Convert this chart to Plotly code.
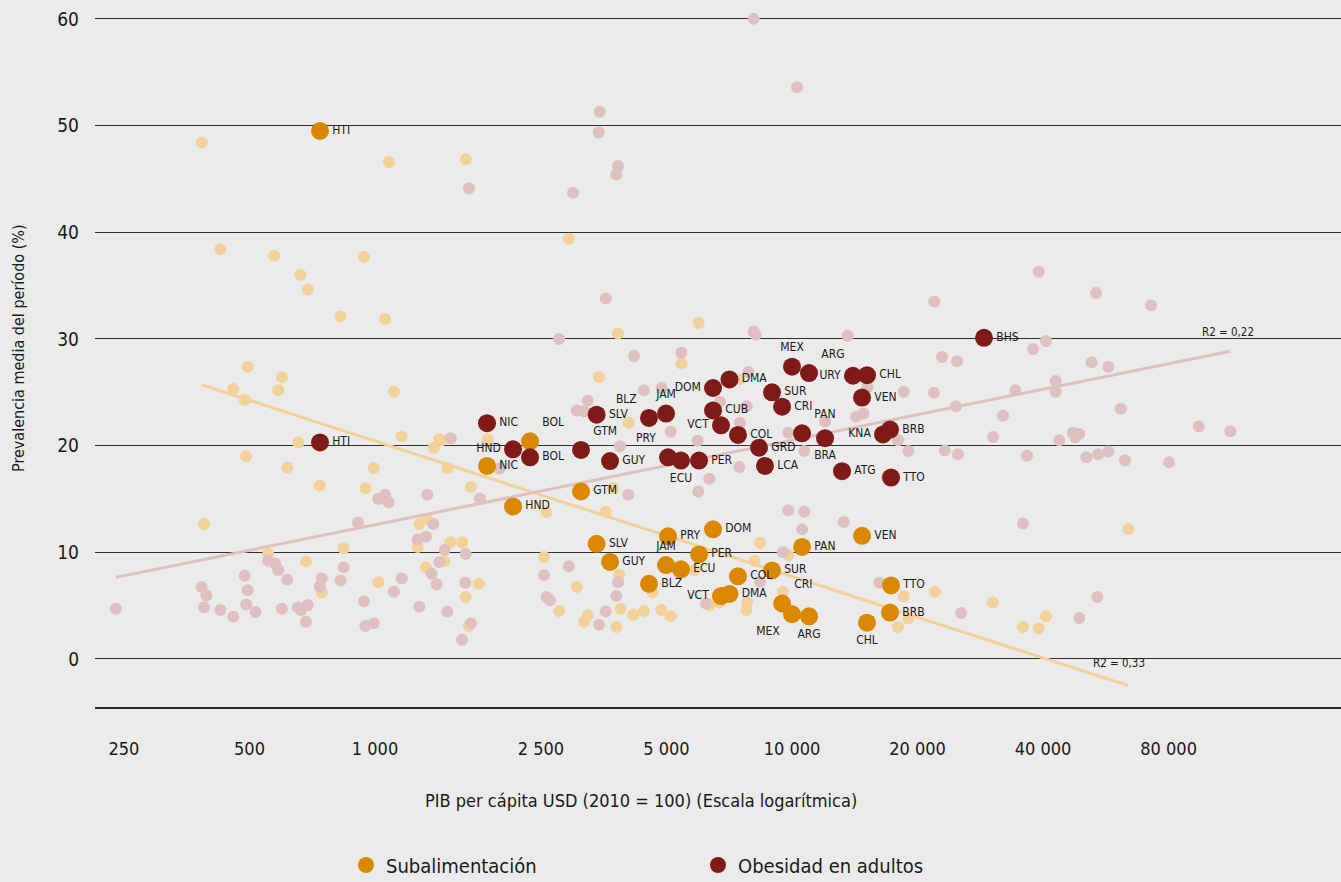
import plotly.graph_objects as go

# ---------------- data ----------------
countries = ["HTI", "NIC", "HND", "BOL", "GTM", "SLV", "GUY", "BLZ", "JAM", "PRY", "ECU",
             "PER", "DOM", "VCT", "CUB", "DMA", "COL", "GRD", "LCA", "SUR", "CRI", "MEX",
             "PAN", "ARG", "BRA", "ATG", "URY", "VEN", "CHL", "KNA", "BRB", "TTO", "BHS"]
gdp = [738, 1856, 2143, 2354, 3119, 3400, 3661, 4540, 4987, 5043, 5417,
       5984, 6465, 6756, 6465, 7080, 7421, 8335, 8613, 8955, 9466, 10000,
       10570, 10985, 12000, 13180, 14000, 14720, 15130, 16530, 17180, 17280, 28870]
obesity = [20.3, 22.1, 19.65, 18.9, 19.6, 22.9, 18.55, 22.6, 23.0, 18.9, 18.6,
           18.6, 25.4, 21.9, 23.3, 26.2, 21.0, 19.8, 18.1, 25.0, 23.65, 27.4,
           21.15, 26.8, 20.7, 17.6, 26.55, 24.5, 26.6, 21.05, 21.5, 17.0, 30.1]
undernourishment = [49.5, 18.1, 14.3, 20.4, 15.7, 10.8, 9.1, 7.05, 8.8, 11.5, 8.4,
                    9.8, 12.15, 5.9, None, 6.1, 7.75, None, None, 8.3, 5.2, 4.2,
                    10.5, 4.0, None, None, None, 11.55, 3.4, None, 4.35, 6.9, None]

# all-world background points: undernourishment
world_under_gdp = [384, 1079, 1650, 426, 573, 941, 663, 690, 827, 1057, 2914, 5972, 3825, 5430,
                   3445, 4059, 1863, 1445, 1491, 1699, 3728, 7474, 495, 457, 487, 598, 586, 1110,
                   655, 1159, 1424, 1383, 491, 616, 993, 737, 948, 389, 1277, 1335, 1266, 1516,
                   1617, 554, 841, 683, 1325, 1466, 1018, 745, 1773, 1650, 1678, 2580, 3575, 8381,
                   2543, 3046, 2767, 3172, 3236, 3790, 3883, 4160, 4410, 4860, 5117, 3849, 4630,
                   5843, 8130, 7810, 7770, 6330, 6690, 9796, 18530, 17960, 19010, 22000, 9510,
                   64060, 30290, 40650, 35780, 39050]
world_under_val = [48.4, 46.55, 46.85, 38.4, 37.8, 37.7, 36.0, 34.6, 32.1, 31.9, 39.4, 31.5, 30.5, 27.7,
                   26.4, 22.15, 20.6, 20.5, 17.9, 16.15, 16.0, 26.2, 27.4, 25.3, 24.3, 26.4, 25.2, 25.05,
                   20.3, 20.85, 20.6, 19.8, 19.0, 17.95, 17.9, 16.25, 16.0, 12.65, 12.65, 13.1, 10.5, 10.95,
                   10.95, 9.85, 10.35, 9.15, 8.6, 9.15, 7.2, 6.2, 7.05, 5.8, 3.1, 13.75, 13.8, 10.9,
                   9.55, 6.75, 4.5, 3.5, 4.1, 3.0, 4.7, 4.15, 4.5, 4.6, 4.0, 7.9, 6.25,
                   8.35, 9.2, 5.3, 4.6, 5.05, 5.3, 9.75, 5.85, 3.0, 3.8, 6.3, 6.3,
                   12.15, 5.3, 4.0, 3.0, 2.85]

# all-world background points: adult obesity
world_obes_gdp = [1680, 8093, 10280, 3458, 3440, 3825, 3790, 2985, 3575, 21940, 2763, 8093, 8180, 13600,
                  39050, 53580, 72600, 37840, 40650, 22900, 24870, 52320, 57350, 42900, 42900, 34310,
                  24730, 32060, 61400, 30340, 43760, 47130, 48850, 47800, 94470, 112500, 23250, 25000,
                  36600, 50790, 54200, 57350, 62880, 80200, 18530, 21900, 9796, 12000, 10700, 19010,
                  17960, 14240, 14850, 15180, 4180, 5427, 4410, 4870, 3236, 3046, 3172, 1519, 3868,
                  5117, 5940, 6335, 5960, 7474, 7785, 7500, 6720, 7860, 16880, 1785, 4051, 1988,
                  239, 384, 394, 389, 426, 457, 487, 495, 491, 517, 554, 576, 586, 616, 598, 653, 665,
                  690, 683, 745, 737, 827, 841, 910, 941, 948, 993, 1018, 1057, 1079, 1110, 1159, 1277,
                  1335, 1325, 1266, 1380, 1469, 1426, 1367, 1406, 1650, 1646, 1491, 1699, 1617, 9796,
                  10700, 10570, 13300, 9510, 2916, 2543, 3830, 3790, 2580, 2627, 3575, 3445, 6220,
                  8381, 16200, 25440, 35780, 53960, 48850]
world_obes_val = [44.1, 60.0, 53.6, 51.3, 49.35, 46.2, 45.4, 43.7, 33.8, 33.5, 30.0, 30.7, 30.4, 30.3,
                  36.3, 34.3, 33.15, 29.05, 29.8, 28.3, 27.9, 27.8, 27.4, 26.05, 25.05, 25.2,
                  23.7, 22.8, 23.45, 20.8, 20.5, 21.2, 21.1, 20.75, 21.8, 21.35, 19.55, 19.2,
                  19.05, 18.9, 19.2, 19.45, 18.6, 18.45, 25.05, 24.95, 21.2, 22.25, 19.5, 19.5,
                  20.5, 22.7, 23.0, 25.5, 28.4, 28.7, 25.2, 25.4, 24.2, 23.3, 23.2, 20.7, 19.95,
                  21.3, 20.45, 16.9, 15.7, 18.0, 23.7, 22.15, 24.1, 26.9, 17.1, 15.05, 15.4, 17.85,
                  4.7, 6.75, 5.95, 4.85, 4.6, 3.95, 7.8, 6.45, 5.1, 4.4, 9.2, 8.95, 8.35, 7.45, 4.7, 4.85, 4.6,
                  5.05, 3.5, 7.55, 6.8, 7.35, 8.6, 12.8, 5.4, 3.1, 3.35, 15.0, 15.4, 14.7, 6.3, 7.55, 4.9,
                  15.4, 11.45, 11.2, 12.65, 10.25, 9.1, 8.0, 7.0, 9.85, 7.15, 4.45, 3.35, 1.8, 13.95,
                  13.8, 12.15, 12.85, 10.0, 8.7, 7.85, 7.2, 5.9, 5.8, 5.5, 4.45, 3.2, 5.2,
                  7.25, 7.15, 4.3, 12.7, 5.8, 3.85]

# trend lines (end points)
trend_under_gdp = [384, 64060]
trend_under_val = [25.7, -2.5]
trend_obes_gdp = [239, 112500]
trend_obes_val = [7.65, 28.85]

tick_vals = [250, 500, 1000, 2500, 5000, 10000, 20000, 40000, 80000]
tick_text = ["250", "500", "1 000", "2 500", "5 000", "10 000", "20 000", "40 000", "80 000"]

# ---------------- styles ----------------
FONT = "'Liberation Sans Narrow', 'DejaVu Sans Condensed', 'Roboto Condensed', Roboto, sans-serif"
C_UNDER = "#d98800"
C_OBES = "#7e1a17"
C_UNDER_LIGHT = "#f2d19b"
C_OBES_LIGHT = "#dfc0c1"
BG = "#ebebeb"
TXT = "#1a1a1a"

pos_obes = {
    "HND": "middle left", "GTM": "top right", "BLZ": "top left", "JAM": "top center",
    "PRY": "top left", "ECU": "bottom center", "DOM": "middle left", "VCT": "middle left",
    "MEX": "top center", "ARG": "top right", "URY": "middle left", "PAN": "top right",
    "BRA": "bottom center", "KNA": "middle left",
}
pos_under = {
    "BOL": "top right", "JAM": "top center", "VCT": "middle left", "CRI": "top right",
    "MEX": "bottom left", "ARG": "bottom center", "CHL": "bottom center",
}

ux, uy, ut, up = [], [], [], []
for c, g, v in zip(countries, gdp, undernourishment):
    if v is not None:
        ux.append(g); uy.append(v); ut.append(c); up.append(pos_under.get(c, "middle right"))
ox, oy, ot, op = [], [], [], []
for c, g, v in zip(countries, gdp, obesity):
    ox.append(g); oy.append(v); ot.append(c); op.append(pos_obes.get(c, "middle right"))

LABEL_FONT = dict(family=FONT, size=12, color=TXT)

fig = go.Figure()
fig.add_trace(go.Scatter(x=world_under_gdp, y=world_under_val, mode="markers",
                         marker=dict(size=12, color=C_UNDER_LIGHT), showlegend=False,
                         hoverinfo="skip", cliponaxis=False))
fig.add_trace(go.Scatter(x=world_obes_gdp, y=world_obes_val, mode="markers",
                         marker=dict(size=12, color=C_OBES_LIGHT), showlegend=False,
                         hoverinfo="skip", cliponaxis=False))
fig.add_trace(go.Scatter(x=trend_under_gdp, y=trend_under_val, mode="lines",
                         line=dict(color=C_UNDER_LIGHT, width=3), showlegend=False, hoverinfo="skip"))
fig.add_trace(go.Scatter(x=trend_obes_gdp, y=trend_obes_val, mode="lines",
                         line=dict(color=C_OBES_LIGHT, width=3), showlegend=False, hoverinfo="skip"))
fig.add_trace(go.Scatter(x=ux, y=uy, mode="markers+text", text=ut, textposition=up,
                         name="Subalimentación",
                         marker=dict(size=18, color=C_UNDER),
                         textfont=LABEL_FONT, cliponaxis=False))
fig.add_trace(go.Scatter(x=ox, y=oy, mode="markers+text", text=ot, textposition=op,
                         name="Obesidad en adultos",
                         marker=dict(size=18, color=C_OBES),
                         textfont=LABEL_FONT, cliponaxis=False))

fig.update_layout(
    width=1341, height=882,
    margin=dict(l=95, r=0, t=5, b=175, pad=0, autoexpand=False),
    paper_bgcolor=BG, plot_bgcolor=BG,
    font=dict(family=FONT, color=TXT),
    showlegend=True,
    legend=dict(orientation="h", x=(346 - 95) / 1246, xanchor="left",
                y=-(865 - 707) / 702, yanchor="middle",
                entrywidth=307, entrywidthmode="pixels",
                font=dict(family=FONT, size=20, color=TXT), bgcolor="rgba(0,0,0,0)",
                itemsizing="trace"),
    xaxis=dict(type="log", range=[2.3285, 5.3165], tickvals=tick_vals, ticktext=tick_text,
               automargin=False,
               showgrid=False, zeroline=False, showline=True, linecolor="#2b2b2b", linewidth=2,
               ticks="", ticklabelstandoff=24, tickfont=dict(family=FONT, size=18, color=TXT)),
    yaxis=dict(range=[-4.5, 61.3], tickvals=[0, 10, 20, 30, 40, 50, 60], automargin=False,
               showgrid=True, gridcolor="#2f2f2f", gridwidth=1.2, zeroline=False, showline=False,
               ticks="", ticklabelstandoff=15, tickfont=dict(family=FONT, size=19, color=TXT)),
    annotations=[
        dict(text="Prevalencia media del período (%)", xref="paper", yref="paper",
             x=-(95 - 18) / 1246, y=(707 - 348) / 702, textangle=-90,
             xanchor="center", yanchor="middle", showarrow=False,
             font=dict(family=FONT, size=16, color=TXT)),
        dict(text="PIB per cápita USD (2010 = 100) (Escala logarítmica)", xref="paper", yref="paper",
             x=(641 - 95) / 1246, y=-(800 - 707) / 702, xanchor="center", yanchor="middle",
             showarrow=False, font=dict(family=FONT, size=18, color=TXT)),
        dict(text="R2 = 0,22", xref="x", yref="y", x=5.0456, y=30.65, showarrow=False,
             xanchor="center", yanchor="middle", font=dict(family=FONT, size=11.5, color=TXT)),
        dict(text="R2 = 0,33", xref="x", yref="y", x=4.784, y=-0.37, showarrow=False,
             xanchor="center", yanchor="middle", font=dict(family=FONT, size=11.5, color=TXT)),
    ],
)

fig.write_html("out.html", config={"displayModeBar": False},
               post_script="document.body.style.margin='0';document.body.style.padding='0';")
